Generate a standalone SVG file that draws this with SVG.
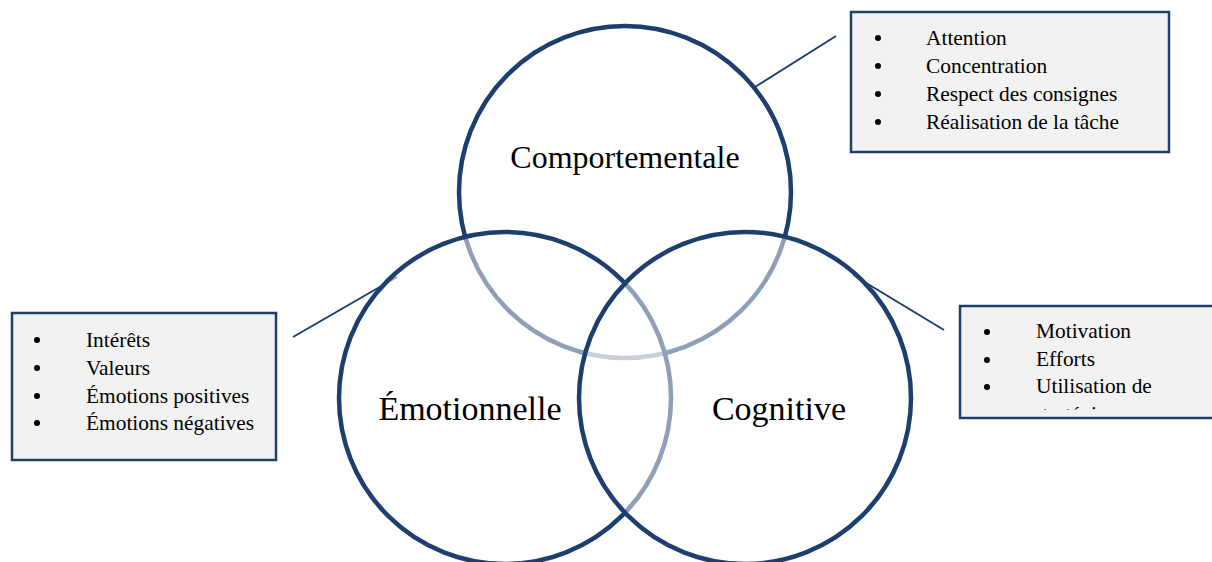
<svg xmlns="http://www.w3.org/2000/svg" width="1212" height="562" viewBox="0 0 1212 562">
<style>
.circ{fill:#ffffff;fill-opacity:0.5;stroke:#1D3F6E;stroke-width:4.5}
.lbl{font-family:"Liberation Serif","Times New Roman",serif;font-size:32px;fill:#000;text-anchor:middle}
.lbl2{font-size:34px}
.box{fill:#F2F2F2;stroke:#1D3F6E;stroke-width:2.5}
.it{font-family:"Liberation Serif","Times New Roman",serif;font-size:21.4px;fill:#000}
.dot{fill:#000}
.con{stroke:#1D3F6E;stroke-width:2;fill:none}
</style>
<defs>
<clipPath id="clipR"><rect x="960" y="307" width="260" height="103"/></clipPath>
</defs>
<rect width="1212" height="562" fill="#ffffff"/>
<g id="connectors">
<line class="con" x1="755" y1="87" x2="836" y2="36"/>
<line class="con" x1="853" y1="275" x2="944" y2="330"/>
<line class="con" x1="293" y1="337" x2="397" y2="277"/>
</g>
<g id="node-comportementale">
<circle class="circ" cx="625" cy="192" r="166"/>
<text class="lbl" x="625" y="168">Comportementale</text>
</g>
<g id="node-emotionnelle">
<circle class="circ" cx="505" cy="398" r="166"/>
<text class="lbl lbl2" x="470" y="420">Émotionnelle</text>
</g>
<g id="node-cognitive">
<circle class="circ" cx="745" cy="398" r="166"/>
<text class="lbl lbl2" x="779" y="420">Cognitive</text>
</g>
<g id="box-comportementale">
<rect class="box" x="851" y="12" width="318" height="140"/>
<circle class="dot" cx="878" cy="38" r="3"/>
<circle class="dot" cx="878" cy="66" r="3"/>
<circle class="dot" cx="878" cy="94" r="3"/>
<circle class="dot" cx="878" cy="122" r="3"/>
<text class="it" x="926" y="45">Attention</text>
<text class="it" x="926" y="73">Concentration</text>
<text class="it" x="926" y="101">Respect des consignes</text>
<text class="it" x="926" y="129">Réalisation de la tâche</text>
</g>
<g id="box-cognitive">
<rect class="box" x="960" y="306" width="270" height="112"/>
<circle class="dot" cx="987" cy="332" r="3"/>
<circle class="dot" cx="987" cy="360" r="3"/>
<circle class="dot" cx="987" cy="387" r="3"/>
<text class="it" x="1036" y="338">Motivation</text>
<text class="it" x="1036" y="366">Efforts</text>
<text class="it" x="1036" y="393">Utilisation de</text>
<text class="it" x="1034" y="421" clip-path="url(#clipR)">stratégies</text>
</g>
<g id="box-emotionnelle">
<rect class="box" x="12" y="313" width="264" height="147"/>
<circle class="dot" cx="37" cy="340" r="3"/>
<circle class="dot" cx="37" cy="368" r="3"/>
<circle class="dot" cx="37" cy="396" r="3"/>
<circle class="dot" cx="37" cy="423" r="3"/>
<text class="it" x="86" y="347">Intérêts</text>
<text class="it" x="86" y="375">Valeurs</text>
<text class="it" x="86" y="403">Émotions positives</text>
<text class="it" x="86" y="430">Émotions négatives</text>
</g>
</svg>
